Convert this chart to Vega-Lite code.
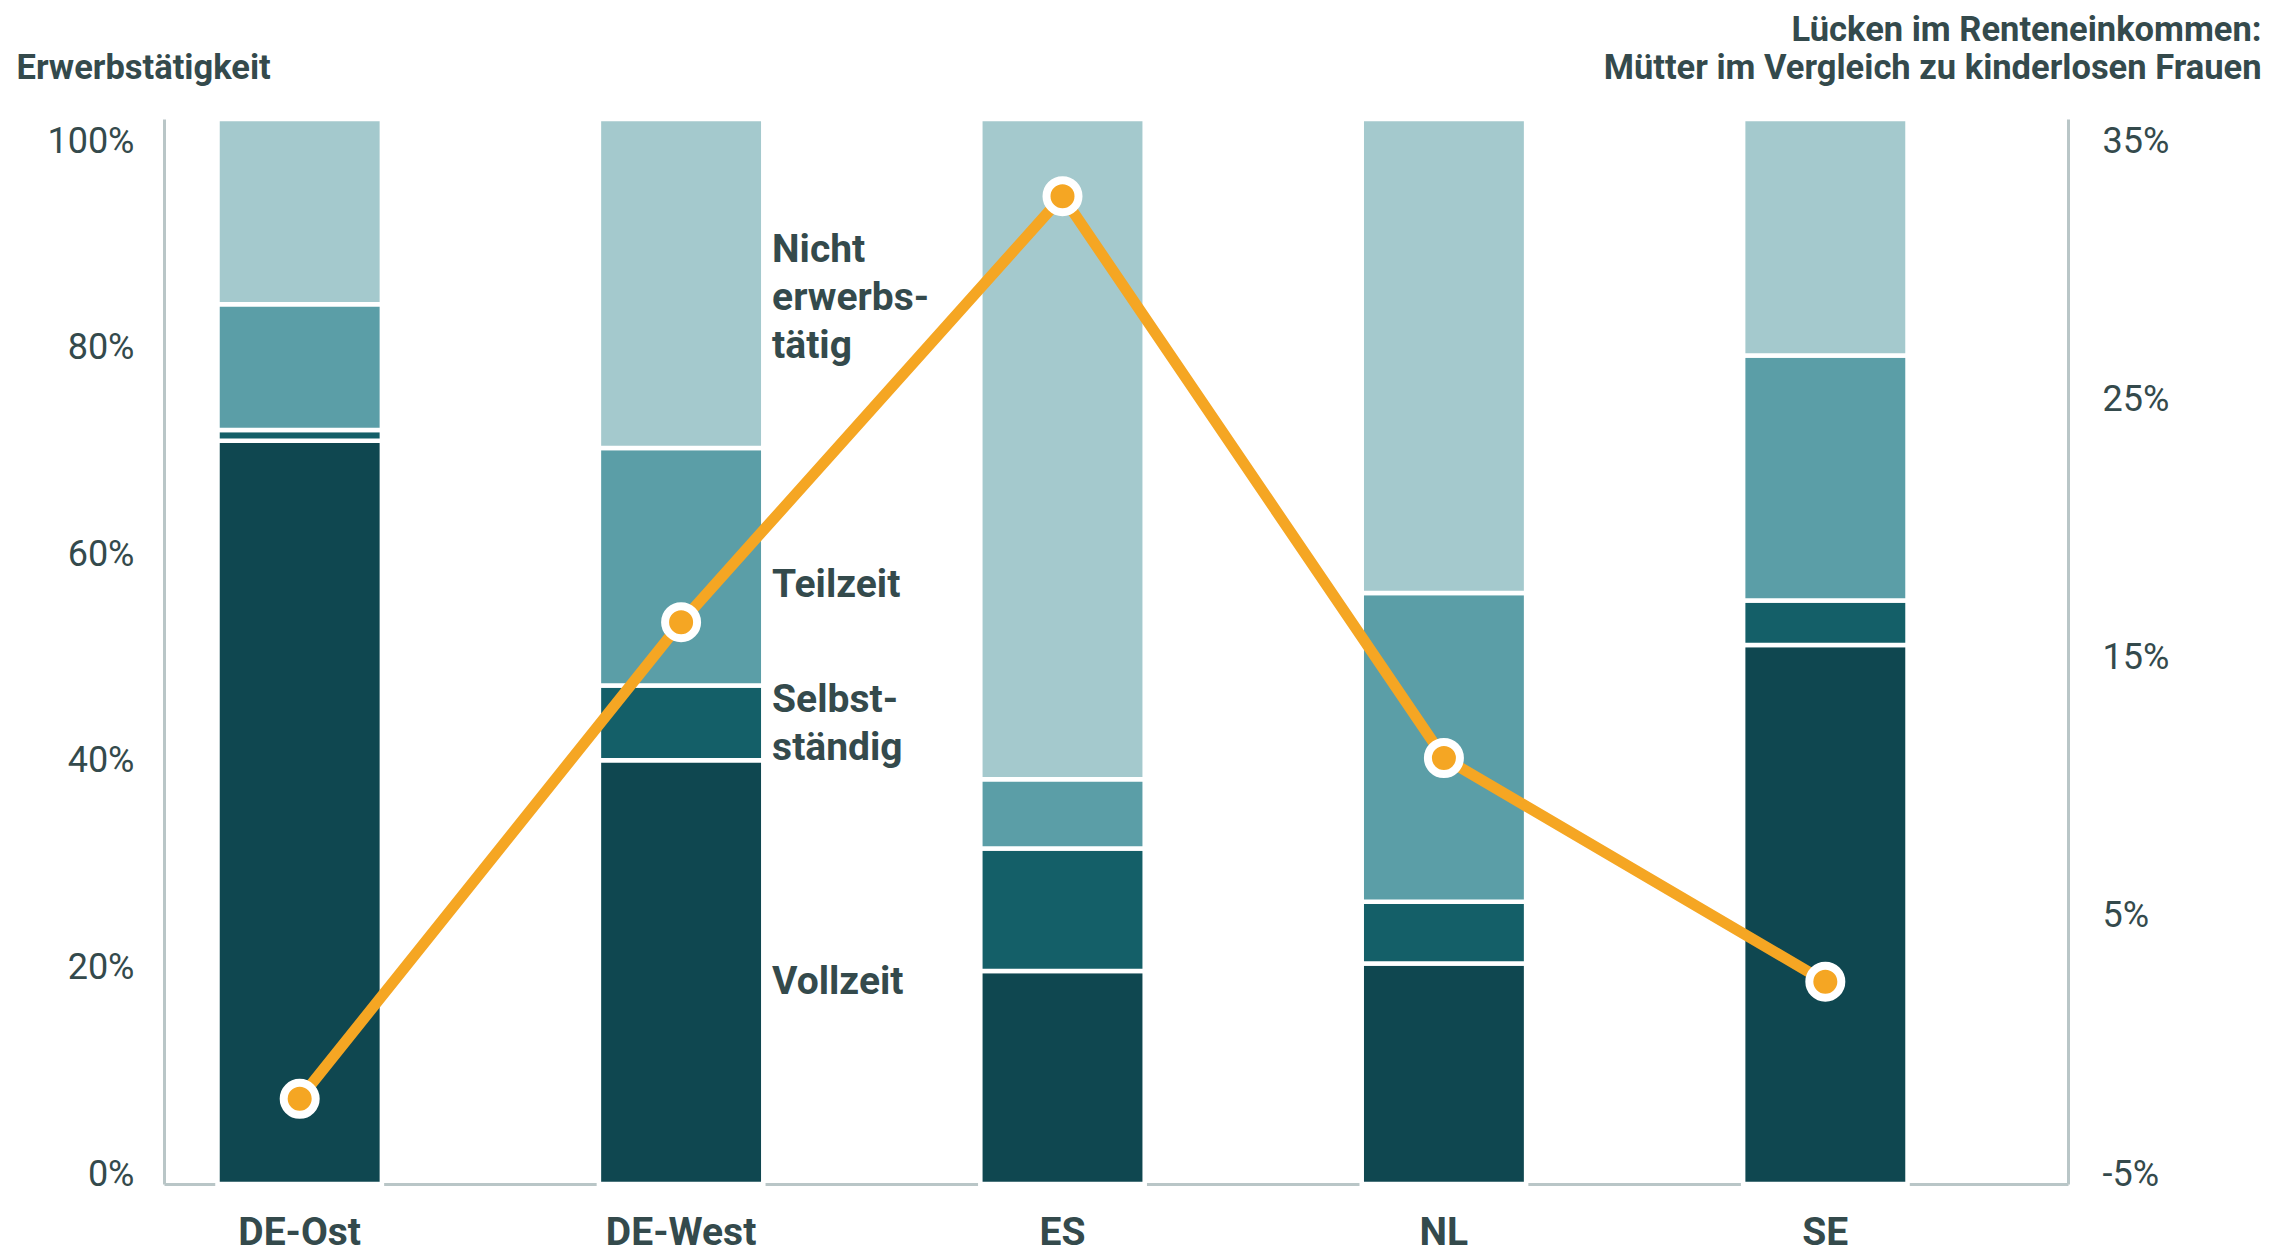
{
  "$schema": "https://vega.github.io/schema/vega-lite/v6.json",
  "autosize": "none",
  "width": 1904,
  "height": 1065,
  "padding": {"left": 164, "top": 119, "right": 204, "bottom": 71},
  "background": "white",
  "config": {
    "view": {"stroke": null},
    "font": "Roboto",
    "axis": {
      "labelFont": "Roboto",
      "titleFont": "Roboto",
      "labelColor": "#344a4c",
      "titleColor": "#344a4c",
      "domainColor": "#b9c6c7",
      "domainWidth": 3,
      "ticks": false,
      "grid": false
    }
  },
  "datasets": {
    "bars": [
      {"land": "DE-Ost", "kategorie": "Vollzeit", "ord": 1, "wert": 69.8},
      {"land": "DE-Ost", "kategorie": "Selbständig", "ord": 2, "wert": 1.0},
      {"land": "DE-Ost", "kategorie": "Teilzeit", "ord": 3, "wert": 11.8},
      {"land": "DE-Ost", "kategorie": "Nicht erwerbstätig", "ord": 4, "wert": 17.4},
      {"land": "DE-West", "kategorie": "Vollzeit", "ord": 1, "wert": 39.8},
      {"land": "DE-West", "kategorie": "Selbständig", "ord": 2, "wert": 7.0},
      {"land": "DE-West", "kategorie": "Teilzeit", "ord": 3, "wert": 22.3},
      {"land": "DE-West", "kategorie": "Nicht erwerbstätig", "ord": 4, "wert": 30.9},
      {"land": "ES", "kategorie": "Vollzeit", "ord": 1, "wert": 20.0},
      {"land": "ES", "kategorie": "Selbständig", "ord": 2, "wert": 11.5},
      {"land": "ES", "kategorie": "Teilzeit", "ord": 3, "wert": 6.5},
      {"land": "ES", "kategorie": "Nicht erwerbstätig", "ord": 4, "wert": 62.0},
      {"land": "NL", "kategorie": "Vollzeit", "ord": 1, "wert": 20.7},
      {"land": "NL", "kategorie": "Selbständig", "ord": 2, "wert": 5.8},
      {"land": "NL", "kategorie": "Teilzeit", "ord": 3, "wert": 29.0},
      {"land": "NL", "kategorie": "Nicht erwerbstätig", "ord": 4, "wert": 44.5},
      {"land": "SE", "kategorie": "Vollzeit", "ord": 1, "wert": 50.6},
      {"land": "SE", "kategorie": "Selbständig", "ord": 2, "wert": 4.2},
      {"land": "SE", "kategorie": "Teilzeit", "ord": 3, "wert": 23.0},
      {"land": "SE", "kategorie": "Nicht erwerbstätig", "ord": 4, "wert": 22.2}
    ],
    "beschriftung": [
      {"kategorie": "Vollzeit", "label": "Vollzeit"},
      {"kategorie": "Selbständig", "label": "Selbst-\nständig"},
      {"kategorie": "Teilzeit", "label": "Teilzeit"},
      {"kategorie": "Nicht erwerbstätig", "label": "Nicht\nerwerbs-\ntätig"}
    ],
    "luecke": [
      {"land": "DE-Ost", "luecke": -1.8},
      {"land": "DE-West", "luecke": 16.1},
      {"land": "ES", "luecke": 32.1},
      {"land": "NL", "luecke": 11.0},
      {"land": "SE", "luecke": 2.6}
    ]
  },
  "encoding": {
    "x": {
      "field": "land",
      "type": "nominal",
      "sort": ["DE-Ost", "DE-West", "ES", "NL", "SE"],
      "scale": {"paddingInner": 0.569, "paddingOuter": 0.2805, "align": 0.25},
      "axis": {
        "title": null,
        "labelAngle": 0,
        "labelFontSize": 39,
        "labelFontWeight": "bold",
        "labelPadding": 29
      }
    }
  },
  "layer": [
    {
      "transform": [
        {"stack": "wert", "groupby": ["land"], "sort": [{"field": "ord"}], "as": ["y0", "y1"]}
      ],
      "data": {"name": "bars"},
      "layer": [
        {
          "mark": {"type": "bar", "stroke": "white", "strokeWidth": 4.5},
          "encoding": {
            "y": {
              "field": "y0",
              "type": "quantitative",
              "scale": {"domain": [0, 100], "nice": false},
              "axis": {
                "values": [0, 20, 40, 60, 80, 100],
                "labelExpr": "datum.value + '%'",
                "labelFontSize": 36,
                "labelPadding": 30,
                "labelOffset": {"expr": "-10 + 0.32 * datum.value"},
                "title": "Erwerbstätigkeit",
                "titleAngle": 0,
                "titleAlign": "left",
                "titleBaseline": "alphabetic",
                "titleX": -148,
                "titleY": -41,
                "titleFontSize": 34.5,
                "titleFontWeight": "bold"
              }
            },
            "y2": {"field": "y1"},
            "color": {
              "field": "kategorie",
              "type": "nominal",
              "scale": {
                "domain": ["Vollzeit", "Selbständig", "Teilzeit", "Nicht erwerbstätig"],
                "range": ["#0f4750", "#145f68", "#5b9ea7", "#a4c9cd"]
              },
              "legend": null
            }
          }
        },
        {
          "transform": [
            {"filter": "datum.land === 'DE-West'"},
            {"fold": ["y0", "y1"], "as": ["rand", "pos"]},
            {"aggregate": [{"op": "mean", "field": "pos", "as": "mitte"}], "groupby": ["land", "kategorie"]},
            {"lookup": "kategorie", "from": {"data": {"name": "beschriftung"}, "key": "kategorie", "fields": ["label"]}}
          ],
          "layer": [
            {
              "transform": [{"filter": "datum.kategorie === 'Nicht erwerbstätig'"}],
              "mark": {"type": "text", "align": "left", "baseline": "middle", "dx": 91, "dy": -34, "fontSize": 39, "fontWeight": "bold", "color": "#344a4c", "lineBreak": "\n", "lineHeight": 48},
              "encoding": {"y": {"field": "mitte", "type": "quantitative"}, "text": {"field": "label"}}
            },
            {
              "transform": [{"filter": "datum.kategorie === 'Selbständig'"}],
              "mark": {"type": "text", "align": "left", "baseline": "middle", "dx": 91, "dy": -23, "fontSize": 39, "fontWeight": "bold", "color": "#344a4c", "lineBreak": "\n", "lineHeight": 48},
              "encoding": {"y": {"field": "mitte", "type": "quantitative"}, "text": {"field": "label"}}
            },
            {
              "transform": [{"filter": "datum.kategorie === 'Teilzeit'"}],
              "mark": {"type": "text", "align": "left", "baseline": "middle", "dx": 91, "dy": 18, "fontSize": 39, "fontWeight": "bold", "color": "#344a4c"},
              "encoding": {"y": {"field": "mitte", "type": "quantitative"}, "text": {"field": "label"}}
            },
            {
              "transform": [{"filter": "datum.kategorie === 'Vollzeit'"}],
              "mark": {"type": "text", "align": "left", "baseline": "middle", "dx": 91, "dy": 10, "fontSize": 39, "fontWeight": "bold", "color": "#344a4c"},
              "encoding": {"y": {"field": "mitte", "type": "quantitative"}, "text": {"field": "label"}}
            }
          ]
        }
      ]
    },
    {
      "data": {"name": "luecke"},
      "layer": [
        {
          "mark": {"type": "line", "color": "#f5a623", "strokeWidth": 11},
          "encoding": {
            "y": {
              "field": "luecke",
              "type": "quantitative",
              "scale": {"domain": [-5, 35], "nice": false},
              "axis": {
                "orient": "right",
                "values": [-5, 5, 15, 25, 35],
                "labelExpr": "datum.value + '%'",
                "labelFontSize": 36,
                "labelPadding": 34,
                "labelOffset": {"expr": "-10 + 0.8 * (datum.value + 5)"},
                "title": ["Lücken im Renteneinkommen:", "Mütter im Vergleich zu kinderlosen Frauen"],
                "titleAngle": 0,
                "titleAlign": "right",
                "titleBaseline": "alphabetic",
                "titleX": 193,
                "titleY": -79,
                "titleLineHeight": 38,
                "titleFontSize": 34.5,
                "titleFontWeight": "bold"
              }
            }
          }
        },
        {
          "mark": {"type": "point", "filled": true, "fill": "#f5a623", "stroke": "white", "strokeWidth": 8, "size": 1024, "opacity": 1},
          "encoding": {
            "y": {"field": "luecke", "type": "quantitative"}
          }
        }
      ]
    }
  ],
  "resolve": {"scale": {"y": "independent"}}
}
